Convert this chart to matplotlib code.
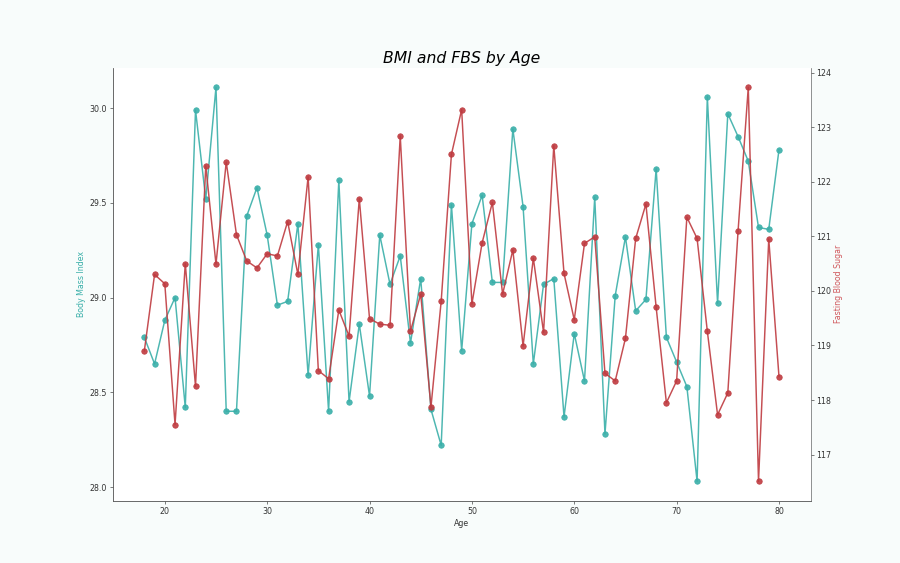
import matplotlib
matplotlib.use("Agg")
import matplotlib.pyplot as plt

# Data
ages = list(range(18, 81))
bmi = [28.79, 28.65, 28.88, 29.00, 28.42, 29.99, 29.52, 30.11, 28.40, 28.40,
       29.43, 29.58, 29.33, 28.96, 28.98, 29.39, 28.59, 29.28, 28.40, 29.62,
       28.45, 28.86, 28.48, 29.33, 29.07, 29.22, 28.76, 29.10, 28.41, 28.22,
       29.49, 28.72, 29.39, 29.54, 29.08, 29.08, 29.89, 29.48, 28.65, 29.07,
       29.10, 28.37, 28.81, 28.56, 29.53, 28.28, 29.01, 29.32, 28.93, 28.99,
       29.68, 28.79, 28.66, 28.53, 28.03, 30.06, 28.97, 29.97, 29.85, 29.72,
       29.37, 29.36, 29.78]
fbs = [118.90, 120.30, 120.13, 117.55, 120.50, 118.25, 122.29, 120.49, 122.36, 121.03,
       120.55, 120.42, 120.68, 120.64, 121.27, 120.30, 122.09, 118.54, 118.39, 119.65,
       119.17, 121.69, 119.49, 119.39, 119.37, 122.84, 119.26, 119.94, 117.87, 119.81,
       122.50, 123.32, 119.76, 120.88, 121.62, 119.94, 120.75, 118.99, 120.60, 119.24,
       122.66, 120.32, 119.47, 120.87, 120.99, 118.49, 118.35, 119.13, 120.96, 121.59,
       119.70, 117.95, 118.35, 121.35, 120.96, 119.26, 117.73, 118.13, 121.09, 123.73,
       116.51, 120.95, 118.43]

teal = "#3aafa9"
red = "#bf3b40"

fig, ax1 = plt.subplots(figsize=(16, 10), facecolor="#f8fcfb")
ax1.set_facecolor("white")

ax1.plot(ages, bmi, color=teal, marker="o", markersize=7, linewidth=1.9, alpha=0.9)
ax1.set_xlabel("Age", color="#333333")
ax1.set_ylabel("Body Mass Index", color=teal)

ax2 = ax1.twinx()
ax2.plot(ages, fbs, color=red, marker="o", markersize=7, linewidth=1.9, alpha=0.9)
ax2.set_ylabel("Fasting Blood Sugar", color="#d0575b")

for ax in (ax1, ax2):
    ax.spines["top"].set_visible(False)
    for s in ("left", "right", "bottom"):
        ax.spines[s].set_color("#555555")
    ax.tick_params(colors="#333333", labelcolor="#333333")
ax1.spines["right"].set_visible(False)

ax1.set_title("BMI and FBS by Age", fontsize=20, fontstyle="italic")

plt.savefig("out.png", dpi=56.3, facecolor=fig.get_facecolor())
